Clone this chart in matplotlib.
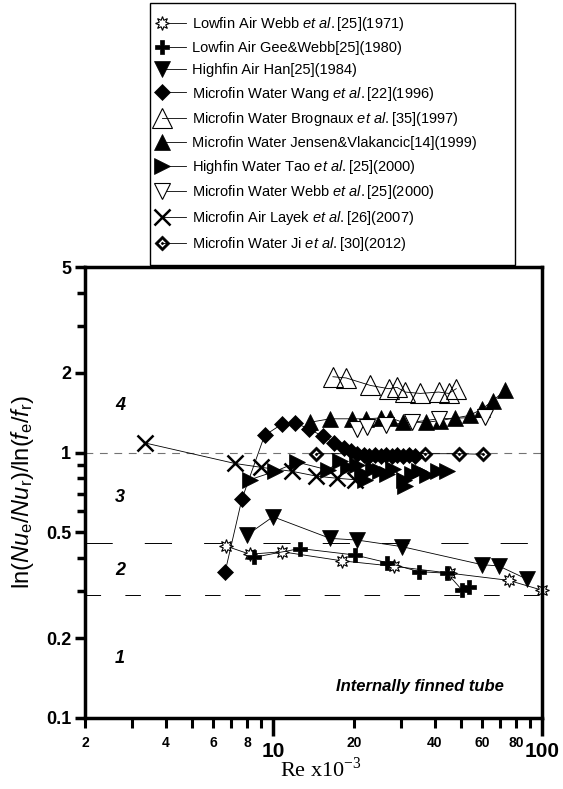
import numpy as np
import matplotlib
matplotlib.use('Agg')
import matplotlib.pyplot as plt
from matplotlib.path import Path
from matplotlib.lines import Line2D
from matplotlib.legend_handler import HandlerLine2D

plt.rcParams['font.family'] = 'Liberation Sans'
plt.rcParams['mathtext.fontset'] = 'custom'
plt.rcParams['mathtext.rm'] = 'Liberation Sans'
plt.rcParams['mathtext.it'] = 'Liberation Sans:italic'
plt.rcParams['mathtext.bf'] = 'Liberation Sans:bold'

# data: Re x10^-3  vs  ln(Nu_e/Nu_r)/ln(f_e/f_r)
webb71_re = [6.7, 8.2, 10.8, 18.0, 28.1, 45.6, 75.2, 100]
webb71_r = [0.444, 0.414, 0.423, 0.391, 0.373, 0.351, 0.330, 0.303]

gee_re = [8.5, 12.6, 20.2, 26.5, 34.8, 44.4, 50.5, 53.4]
gee_r = [0.403, 0.435, 0.411, 0.385, 0.356, 0.351, 0.303, 0.312]

han_re = [8.0, 10.0, 16.3, 20.6, 30.2, 59.9, 69.0, 88.1]
han_r = [0.489, 0.573, 0.475, 0.468, 0.442, 0.378, 0.374, 0.333]

wang_re = [6.64, 7.66, 9.3, 10.8, 12.1, 13.6, 15.3, 16.9, 18.4, 19.5, 20.6, 21.7, 22.8,
           24.0, 25.2, 26.4, 27.7, 29.0, 30.5, 32.0, 33.6]
wang_r = [0.356, 0.667, 1.16, 1.28, 1.29, 1.23, 1.15, 1.09, 1.04, 1.01, 0.99, 0.98, 0.97,
          0.98, 0.97, 0.98, 0.97, 0.98, 0.97, 0.98, 0.97]

brog_re = [16.7, 18.7, 23.0, 26.9, 28.9, 31.0, 35.3, 41.3, 45.0, 48.0]
brog_r = [1.93, 1.91, 1.79, 1.74, 1.76, 1.69, 1.67, 1.69, 1.67, 1.74]

jensen_re = [13.7, 16.3, 19.7, 22.2, 25.1, 27.3, 30.4, 37.2, 41.9, 47.6, 53.8, 59.9, 65.8, 73.1]
jensen_r = [1.30, 1.34, 1.34, 1.34, 1.35, 1.35, 1.30, 1.30, 1.32, 1.35, 1.38, 1.46, 1.57, 1.72]

tao_re = [8.2, 10.2, 12.3, 16.0, 17.8, 19.0, 20.5, 21.5, 22.0, 23.6, 25.0, 26.5, 28.0,
          30.6, 31.0, 33.0, 35.0, 37.4, 41.0, 44.4]
tao_r = [0.79, 0.85, 0.92, 0.86, 0.93, 0.88, 0.90, 0.84, 0.79, 0.87, 0.85, 0.83, 0.87,
         0.79, 0.75, 0.83, 0.85, 0.82, 0.85, 0.85]

webb00_re = [20.5, 22.3, 26.2, 32.9, 41.3, 61.6]
webb00_r = [1.23, 1.25, 1.27, 1.30, 1.34, 1.36]

layek_re = [3.34, 7.2, 9.0, 11.75, 14.5, 17.3, 20.2]
layek_r = [1.087, 0.91, 0.88, 0.85, 0.815, 0.80, 0.79]

ji_re = [14.5, 36.8, 49.0, 60.5]
ji_r = [0.99, 0.99, 0.99, 0.985]

labels = [
    'Lowfin Air Webb $\\mathit{et\\ al.}$[25](1971)',
    'Lowfin Air Gee&Webb[25](1980)',
    'Highfin Air Han[25](1984)',
    'Microfin Water Wang $\\mathit{et\\ al.}$[22](1996)',
    'Microfin Water Brognaux $\\mathit{et\\ al.}$[35](1997)',
    'Microfin Water Jensen&Vlakancic[14](1999)',
    'Highfin Water Tao $\\mathit{et\\ al.}$[25](2000)',
    'Microfin Water Webb $\\mathit{et\\ al.}$[25](2000)',
    'Microfin Air Layek $\\mathit{et\\ al.}$[26](2007)',
    'Microfin Water Ji $\\mathit{et\\ al.}$[30](2012)',
]

# diamond with a hole and a dot in the middle (Ji et al.)
def dotted_diamond():
    o, h, d = 1.0, 0.55, 0.2
    verts = [(0, o), (o, 0), (0, -o), (-o, 0), (0, o),
             (0, h), (-h, 0), (0, -h), (h, 0), (0, h),
             (0, d), (d, 0), (0, -d), (-d, 0), (0, d)]
    codes = ([Path.MOVETO] + [Path.LINETO] * 3 + [Path.CLOSEPOLY]) * 3
    return Path(verts, codes)


class LeftMarkerHandler(HandlerLine2D):
    # marker sits at the left end of the legend line
    def create_artists(self, legend, orig_handle, xdescent, ydescent, width, height, fontsize, trans):
        arts = super().create_artists(legend, orig_handle, xdescent, ydescent, width, height, fontsize, trans)
        for a in arts:
            a.set_markevery([0])
        return arts


fig = plt.figure(figsize=(5.63, 7.89), dpi=100)
ax = fig.add_axes([85 / 563, 1 - 718 / 789, 457 / 563, 451 / 789])

styles = [
    (webb71_re, webb71_r, (8, 1, 0), 10, 'white', 0.8),
    (gee_re, gee_r, 'P', 10, 'black', 0.5),
    (han_re, han_r, 'v', 12, 'black', 0.5),
    (wang_re, wang_r, 'D', 8, 'black', 0.5),
    (brog_re, brog_r, '^', 14, 'none', 0.8),
    (jensen_re, jensen_r, '^', 11, 'black', 0.5),
    (tao_re, tao_r, '>', 12, 'black', 0.5),
    (webb00_re, webb00_r, 'v', 11, 'white', 0.8),
    (layek_re, layek_r, 'x', 11, 'black', 1.8),
    (ji_re, ji_r, dotted_diamond(), 11, 'black', 0.3),
]

for (re, r, m, ms, fc, mew), lab in zip(styles, labels):
    ax.plot(re, r, color='black', lw=0.6, marker=m, ms=ms, mfc=fc, mec='black', mew=mew,
            label=lab, clip_on=False, zorder=3)

# region boundaries
ax.axhline(1.0, color='0.45', lw=0.8, ls=(0, (7, 6)), zorder=0)
ax.axhline(0.457, color='black', lw=0.7, ls=(0, (28, 33)), zorder=0)
ax.axhline(0.29, color='black', lw=0.7, ls=(0, (16, 25)), zorder=0)

for txt, yv in [('4', 1.51), ('3', 0.68), ('2', 0.361), ('1', 0.168)]:
    ax.text(2.7, yv, txt, fontsize=13, fontweight='bold', style='italic', ha='center', va='center')

ax.text(72, 0.131, 'Internally finned tube', fontsize=12, fontweight='bold', style='italic',
        ha='right', va='center')

ax.set_xscale('log')
ax.set_yscale('log')
ax.set_xlim(2, 100)
ax.set_ylim(0.1, 5)

ax.set_xticks([10, 100])
ax.set_xticklabels(['10', '100'], fontsize=15, fontweight='bold')
minor_x = [2, 3, 4, 5, 6, 7, 8, 9, 20, 30, 40, 50, 60, 70, 80, 90]
ax.set_xticks(minor_x, minor=True)
ax.set_xticklabels(['2', '', '4', '', '6', '', '8', '', '20', '', '40', '', '60', '', '80', ''],
                   minor=True, fontsize=10, fontweight='bold')

ax.set_yticks([0.1, 0.2, 0.5, 1, 2, 5])
ax.set_yticklabels(['0.1', '0.2', '0.5', '1', '2', '5'], fontsize=13, fontweight='bold')
ax.set_yticks([0.3, 0.4, 0.6, 0.7, 0.8, 0.9, 3, 4], minor=True)
ax.set_yticklabels([], minor=True)

ax.tick_params(which='both', direction='out', top=False, right=False)
ax.tick_params(axis='y', which='major', length=7, width=2.5, pad=3)
ax.tick_params(axis='y', which='minor', length=6, width=2.5)
ax.tick_params(axis='x', which='major', length=13, width=2.5, pad=4)
ax.tick_params(axis='x', which='minor', length=7, width=2.2, pad=6)
for sp in ax.spines.values():
    sp.set_linewidth(2.5)
    sp.set_zorder(4)

fig.text(22 / 563, 1 - 492 / 789,
         'ln($\\mathit{Nu}_{\\mathrm{e}}$/$\\mathit{Nu}_{\\mathrm{r}}$)/ln($\\mathit{f}_{\\mathrm{e}}$/$\\mathit{f}_{\\mathrm{r}}$)',
         rotation=90, fontsize=17, ha='center', va='center')
fig.text(321 / 563, 1 - 769 / 789, 'Re x10$^{\\mathregular{-3}}$', family='Liberation Serif',
         fontsize=16, ha='center', va='center')

handles, labs = ax.get_legend_handles_labels()
leg = fig.legend(handles, labs, loc='upper left', mode='expand',
                 bbox_to_anchor=(150 / 563, 1 - 3 / 789, 365 / 563, 0),
                 frameon=True, fancybox=False, edgecolor='black', framealpha=1,
                 fontsize=10.5, handlelength=1.6, handletextpad=0.45, labelspacing=0.53,
                 borderpad=0.85, borderaxespad=0, handler_map={Line2D: LeftMarkerHandler()})
leg.get_frame().set_linewidth(1.0)

fig.savefig('out.png', dpi=100)
